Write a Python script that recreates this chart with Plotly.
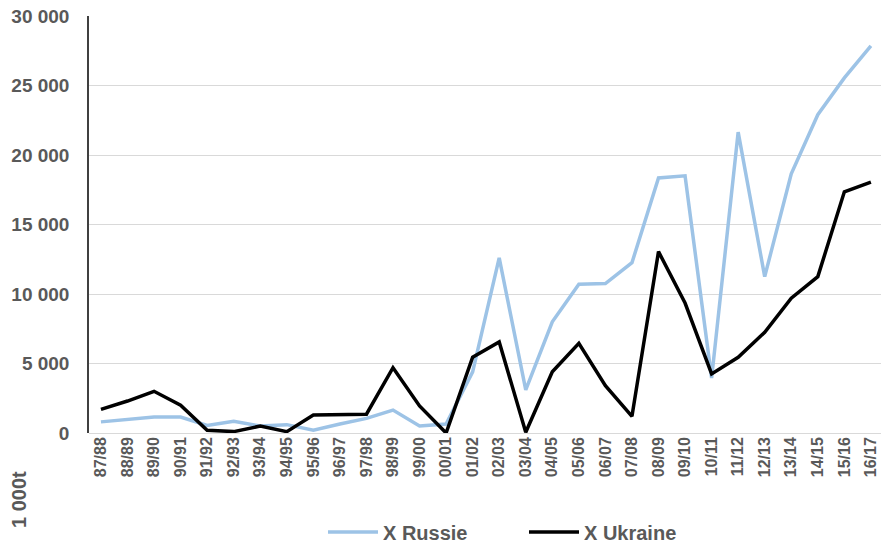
import plotly.graph_objects as go

campagnes = ["87/88","88/89","89/90","90/91","91/92","92/93","93/94","94/95","95/96","96/97",
             "97/98","98/99","99/00","00/01","01/02","02/03","03/04","04/05","05/06","06/07",
             "07/08","08/09","09/10","10/11","11/12","12/13","13/14","14/15","15/16","16/17"]
russie = [800, 950, 1150, 1150, 550, 850, 500, 600, 200, 650,
          1050, 1650, 500, 650, 4400, 12600, 3100, 8000, 10700, 10750,
          12250, 18350, 18500, 3950, 21650, 11250, 18650, 22900, 25550, 27850]
ukraine = [1700, 2300, 3000, 2000, 200, 100, 500, 100, 1300, 1300,
           1350, 4700, 1950, 0, 5450, 6550, 50, 4400, 6450, 3400,
           1200, 13050, 9350, 4250, 5450, 7250, 9700, 11250, 17350, 18050]
y_ticks = [0, 5000, 10000, 15000, 20000, 25000, 30000]
y_labels = ["0", "5 000", "10 000", "15 000", "20 000", "25 000", "30 000"]

fig = go.Figure()
fig.add_trace(go.Scatter(x=list(range(len(campagnes))), y=russie, mode="lines",
                         name="<b>X Russie</b>",
                         line=dict(color="#9DC3E6", width=3.5)))
fig.add_trace(go.Scatter(x=list(range(len(campagnes))), y=ukraine, mode="lines",
                         name="<b>X Ukraine</b>",
                         line=dict(color="#000000", width=3.5)))

font_family = "Liberation Sans, Arial, sans-serif"
W, H = 881, 543
L, R, T, B = 89, 0, 16, 110
plot_w = W - L - R
plot_h = H - T - B

def px_x(page_x):
    return (page_x - L) / plot_w

def px_y(page_y):
    return (H - B - page_y) / plot_h

fig.update_layout(
    width=W, height=H,
    margin=dict(l=L, r=R, t=T, b=B, autoexpand=False),
    plot_bgcolor="white", paper_bgcolor="white",
    font=dict(family=font_family, color="#595959"),
    showlegend=True,
    legend=dict(orientation="h", x=px_x(323), xanchor="left",
                y=px_y(532), yanchor="middle",
                font=dict(size=20, color="#595959", family=font_family),
                itemwidth=50, entrywidth=136, bgcolor="rgba(0,0,0,0)"),
    xaxis=dict(range=[-0.45, 29.38], tickmode="array", tickvals=list(range(len(campagnes))),
               ticktext=["<b>%s</b>" % c for c in campagnes], tickangle=-90,
               tickfont=dict(size=16, color="#595959"), showgrid=False, zeroline=False,
               showline=False, ticks="", automargin=False, ticklabeloverflow="allow"),
    yaxis=dict(range=[0, 30000], tickmode="array", tickvals=y_ticks,
               ticktext=["<b>%s</b>" % t for t in y_labels],
               tickfont=dict(size=19, color="#595959"), showgrid=True, gridcolor="#D9D9D9",
               gridwidth=1, zeroline=True, zerolinecolor="#D9D9D9", zerolinewidth=1,
               showline=True, linecolor="#404040", linewidth=1.5, ticks="",
               ticklabelstandoff=14, automargin=False, ticklabeloverflow="allow"),
    annotations=[dict(text="<b>1 000t</b>", textangle=-90,
                      x=px_x(19), y=px_y(500),
                      xref="paper", yref="paper", xanchor="center", yanchor="middle",
                      showarrow=False, font=dict(size=20, color="#595959"))],
)

fig.write_html("out.html", config={"displayModeBar": False},
               post_script="document.body.style.margin='0';document.body.style.padding='0';")
